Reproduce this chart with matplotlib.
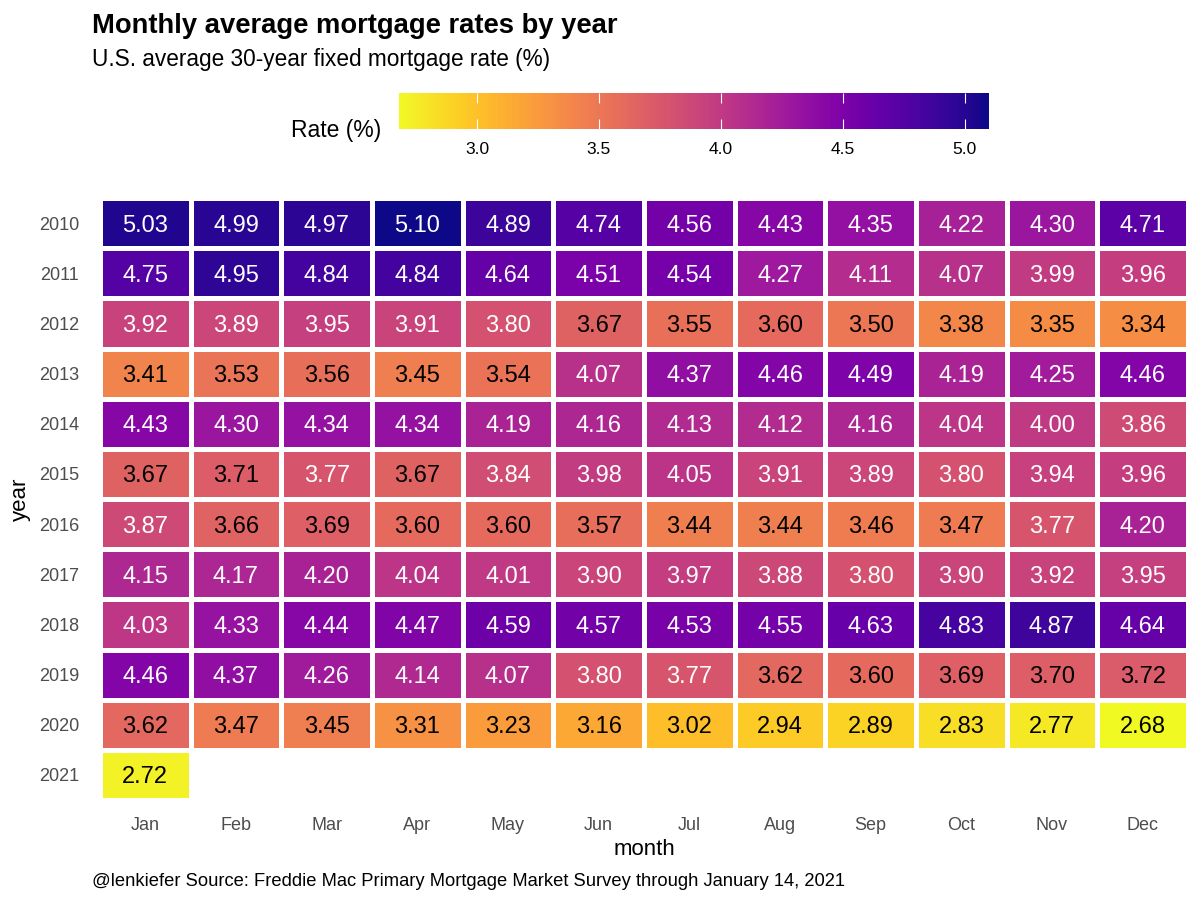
import numpy as np
import matplotlib
matplotlib.use("Agg")
import matplotlib.pyplot as plt

plt.rcParams['font.family'] = ['Liberation Sans', 'DejaVu Sans']

months = ["Jan", "Feb", "Mar", "Apr", "May", "Jun",
          "Jul", "Aug", "Sep", "Oct", "Nov", "Dec"]
years = [2010, 2011, 2012, 2013, 2014, 2015, 2016, 2017, 2018, 2019, 2020, 2021]

r2010 = [5.03, 4.99, 4.97, 5.10, 4.89, 4.74, 4.56, 4.43, 4.35, 4.22, 4.30, 4.71]
r2011 = [4.75, 4.95, 4.84, 4.84, 4.64, 4.51, 4.54, 4.27, 4.11, 4.07, 3.99, 3.96]
r2012 = [3.92, 3.89, 3.95, 3.91, 3.80, 3.67, 3.55, 3.60, 3.50, 3.38, 3.35, 3.34]
r2013 = [3.41, 3.53, 3.56, 3.45, 3.54, 4.07, 4.37, 4.46, 4.49, 4.19, 4.25, 4.46]
r2014 = [4.43, 4.30, 4.34, 4.34, 4.19, 4.16, 4.13, 4.12, 4.16, 4.04, 4.00, 3.86]
r2015 = [3.67, 3.71, 3.77, 3.67, 3.84, 3.98, 4.05, 3.91, 3.89, 3.80, 3.94, 3.96]
r2016 = [3.87, 3.66, 3.69, 3.60, 3.60, 3.57, 3.44, 3.44, 3.46, 3.47, 3.77, 4.20]
r2017 = [4.15, 4.17, 4.20, 4.04, 4.01, 3.90, 3.97, 3.88, 3.80, 3.90, 3.92, 3.95]
r2018 = [4.03, 4.33, 4.44, 4.47, 4.59, 4.57, 4.53, 4.55, 4.63, 4.83, 4.87, 4.64]
r2019 = [4.46, 4.37, 4.26, 4.14, 4.07, 3.80, 3.77, 3.62, 3.60, 3.69, 3.70, 3.72]
r2020 = [3.62, 3.47, 3.45, 3.31, 3.23, 3.16, 3.02, 2.94, 2.89, 2.83, 2.77, 2.68]
r2021 = [2.72]

rows = [r2010, r2011, r2012, r2013, r2014, r2015, r2016, r2017, r2018, r2019, r2020, r2021]

# grid with NaN for months not yet reported
grid = np.full((len(years), len(months)), np.nan)
for i, row in enumerate(rows):
    grid[i, :len(row)] = row
data = np.ma.masked_invalid(grid)
vmin, vmax = np.nanmin(grid), np.nanmax(grid)

fig = plt.figure(figsize=(12, 9), dpi=100)
ax = fig.add_axes([100 / 1200, 1 - 800 / 900, 1088 / 1200, 602 / 900])

cmap = plt.get_cmap("plasma_r")
mesh = ax.pcolormesh(np.arange(len(months) + 1) - 0.5, np.arange(len(years) + 1) - 0.5,
                     data, cmap=cmap, vmin=vmin, vmax=vmax,
                     edgecolors="white", linewidth=2.2)
ax.set_xlim(-0.5, len(months) - 0.5)
ax.set_ylim(len(years) - 0.5, -0.5)

for i, row in enumerate(rows):
    for j, v in enumerate(row):
        ax.text(j, i, f"{v:.2f}", ha="center", va="center_baseline", fontsize=17,
                color="white" if v >= 3.75 else "black")

ax.set_xticks(range(len(months)))
ax.set_xticklabels(months)
ax.set_yticks(range(len(years)))
ax.set_yticklabels(years)
ax.tick_params(length=0, labelsize=13, labelcolor="#4d4d4d")
ax.tick_params(axis="y", pad=15)
ax.tick_params(axis="x", pad=12)
for s in ax.spines.values():
    s.set_visible(False)
ax.set_xlabel("month", fontsize=16, labelpad=4)
ax.set_ylabel("year", fontsize=16, labelpad=6)

# colorbar legend on top
cax = fig.add_axes([399 / 1200, 1 - 129 / 900, 590 / 1200, 36 / 900])
cb = fig.colorbar(mesh, cax=cax, orientation="horizontal", ticks=[3.0, 3.5, 4.0, 4.5, 5.0])
cb.outline.set_visible(False)
cb.ax.set_xticklabels(["3.0", "3.5", "4.0", "4.5", "5.0"])
cax.xaxis.set_ticks_position("both")
cax.tick_params(axis="x", direction="in", color="white", length=7, width=0.8,
                labelsize=12.5, labelcolor="black", labelbottom=True, labeltop=False, pad=9)
fig.text(381 / 1200, 1 - 128 / 900, "Rate (%)", ha="right", va="center_baseline", fontsize=16.5)

fig.text(92 / 1200, 1 - 33 / 900, "Monthly average mortgage rates by year",
         fontsize=19.7, fontweight="bold", ha="left", va="baseline")
fig.text(92 / 1200, 1 - 66 / 900, "U.S. average 30-year fixed mortgage rate (%)",
         fontsize=16.3, ha="left", va="baseline")
fig.text(92 / 1200, 1 - 886 / 900,
         "@lenkiefer Source: Freddie Mac Primary Mortgage Market Survey through January 14, 2021",
         fontsize=13.2, ha="left", va="baseline")

fig.savefig("out.png", dpi=100)
